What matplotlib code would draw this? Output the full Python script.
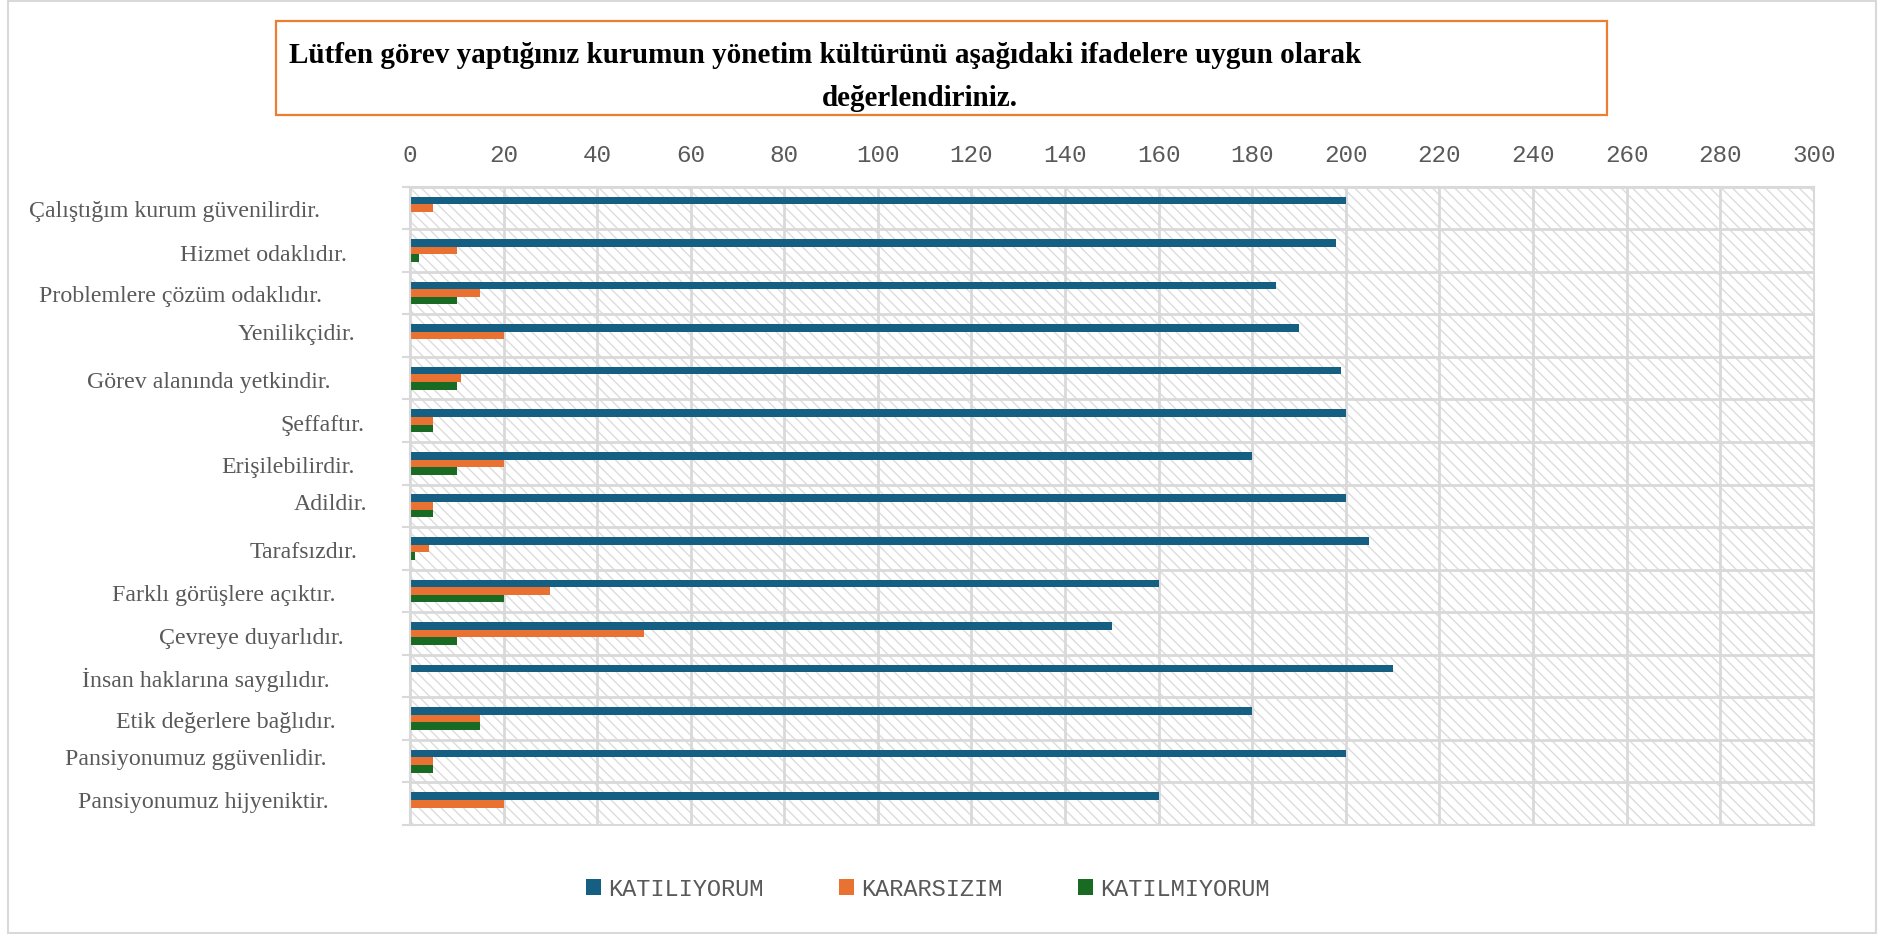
import matplotlib.pyplot as plt
import matplotlib.patches as patches
import matplotlib.transforms as transforms
import numpy as np

W, H = 1883, 934

ifadeler = ["Çalıştığım kurum güvenilirdir.", "Hizmet odaklıdır.",
            "Problemlere çözüm odaklıdır.", "Yenilikçidir.",
            "Görev alanında yetkindir.", "Şeffaftır.", "Erişilebilirdir.",
            "Adildir.", "Tarafsızdır.", "Farklı görüşlere açıktır.",
            "Çevreye duyarlıdır.", "İnsan haklarına saygılıdır.",
            "Etik değerlere bağlıdır.", "Pansiyonumuz ggüvenlidir.",
            "Pansiyonumuz hijyeniktir."]
katiliyorum = [200, 198, 185, 190, 199, 200, 180, 200, 205, 160, 150, 210, 180, 200, 160]
kararsizim = [5, 10, 15, 20, 11, 5, 20, 5, 4, 30, 50, 0, 15, 5, 20]
katilmiyorum = [0, 2, 10, 0, 10, 5, 10, 5, 1, 20, 10, 0, 15, 5, 0]
seriler = ["KATILIYORUM", "KARARSIZIM", "KATILMIYORUM"]
renkler = ["#156082", "#E97132", "#196B24"]
x_ticks = np.arange(0, 301, 20)

baslik1 = "Lütfen görev yaptığınız kurumun yönetim kültürünü aşağıdaki ifadelere uygun olarak"
baslik2 = "değerlendiriniz."

# etiketlerin sag kenari ve dikey kaymasi (piksel) - orijinaldeki gibi duzensiz
etiket_sag = [320, 347, 322, 356, 331, 365, 355, 367, 358, 336, 344, 330, 336, 327, 329]
etiket_dy = [4, 4.5, 3.7, -1.6, 4.7, 4.4, 4, -1.6, 4, 4.3, 5, 4, 4, -2, -1]

gri = "#d9d9d9"
yazi = "#595959"
plt.rcParams['hatch.color'] = "#dcdcdc"
plt.rcParams['hatch.linewidth'] = 1.0

fig = plt.figure(figsize=(W / 100, H / 100), dpi=100)
ax = fig.add_axes([410 / W, 1 - 825 / H, (1813.7 - 410) / W, (825 - 186.7) / H])

y = np.arange(len(ifadeler))
h = 0.178
ax.add_patch(patches.Rectangle((0, -0.5), 300, len(ifadeler), facecolor="white",
                               edgecolor="#dcdcdc", hatch="\\\\\\", lw=0, zorder=0))
for k, (vals, renk, ad) in enumerate(zip([katiliyorum, kararsizim, katilmiyorum], renkler, seriler)):
    ax.barh(y + (k - 1) * h, vals, height=h, color=renk, label=ad, zorder=2)

ax.set_xlim(0, 300)
ax.set_ylim(len(ifadeler) - 0.5, -0.5)
ax.set_xticks(x_ticks)
ax.xaxis.tick_top()
ax.tick_params(axis='x', length=0, pad=14, labelsize=17.5, labelcolor=yazi)
for t in ax.get_xticklabels():
    t.set_fontfamily("Liberation Mono")
ax.grid(axis='x', color=gri, lw=2, zorder=1)

ax.set_yticks(y)
ax.set_yticklabels([])
ax.tick_params(axis='y', which='major', length=0)
ax.set_yticks(np.arange(-0.5, len(ifadeler), 1), minor=True)
ax.tick_params(axis='y', which='minor', length=6, width=1.5, color=gri)
ax.grid(axis='y', which='minor', color=gri, lw=2, zorder=1)
for s in ax.spines.values():
    s.set_color(gri)
    s.set_linewidth(1.5)

# kategori etiketleri
tr = transforms.blended_transform_factory(fig.transFigure, ax.transData)
for i, ad in enumerate(ifadeler):
    kay = transforms.ScaledTranslation(0, -etiket_dy[i] / 100, fig.dpi_scale_trans)
    ax.text(etiket_sag[i] / W, i, ad, transform=tr + kay, ha='right', va='center',
            fontsize=17.2, family="Liberation Serif", color=yazi)

# baslik kutusu
fig.add_artist(patches.Rectangle((276 / W, 1 - 115 / H), (1607 - 276) / W, 94.3 / H,
                                 transform=fig.transFigure, fill=False,
                                 edgecolor="#ED7D31", lw=1.6))
fig.text(289 / W, 1 - 63 / H, baslik1, ha='left', va='baseline', fontsize=21,
         fontweight='bold', family="Liberation Serif", color='black')
fig.text(920 / W, 1 - 106 / H, baslik2, ha='center', va='baseline', fontsize=21,
         fontweight='bold', family="Liberation Serif", color='black')

# dis cerceve
fig.add_artist(patches.Rectangle((8 / W, 1 - 933 / H), (1876 - 8) / W, 932 / H,
                                 transform=fig.transFigure, fill=False,
                                 edgecolor=gri, lw=1.5))

leg = fig.legend(loc='center', bbox_to_anchor=(928 / W, 1 - 889 / H), ncol=3,
                 frameon=False, handlelength=0.61, handleheight=0.68,
                 handletextpad=0.32, columnspacing=3.2,
                 prop={'family': 'Liberation Mono', 'size': 17})
for t in leg.get_texts():
    t.set_color(yazi)

fig.savefig("out.png", dpi=100)
